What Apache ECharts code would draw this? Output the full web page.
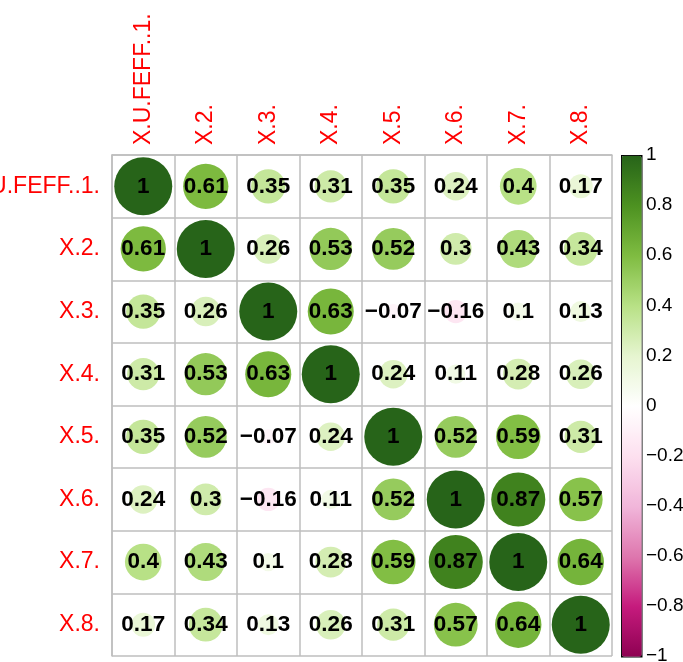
<!DOCTYPE html>
<html>
<head>
<meta charset="utf-8">
<script src="https://cdn.jsdelivr.net/npm/echarts@6/dist/echarts.min.js"></script>
<style>
html, body { margin: 0; padding: 0; background: #fff; }
#main { width: 683px; height: 662px; }
</style>
</head>
<body>
<div id="main"></div>
<script>
// variable names, top row / left column first
var vars = ['X.U.FEFF..1.', 'X.2.', 'X.3.', 'X.4.', 'X.5.', 'X.6.', 'X.7.', 'X.8.']

// correlation matrix, one row per variable
var corr = [
    [1, 0.61, 0.35, 0.31, 0.35, 0.24, 0.4, 0.17],
    [0.61, 1, 0.26, 0.53, 0.52, 0.3, 0.43, 0.34],
    [0.35, 0.26, 1, 0.63, -0.07, -0.16, 0.1, 0.13],
    [0.31, 0.53, 0.63, 1, 0.24, 0.11, 0.28, 0.26],
    [0.35, 0.52, -0.07, 0.24, 1, 0.52, 0.59, 0.31],
    [0.24, 0.3, -0.16, 0.11, 0.52, 1, 0.87, 0.57],
    [0.4, 0.43, 0.1, 0.28, 0.59, 0.87, 1, 0.64],
    [0.17, 0.34, 0.13, 0.26, 0.31, 0.57, 0.64, 1]
]

// PiYG palette, -1 .. 1
var palette = ['#8E0152', '#C51B7D', '#DE77AE', '#F1B6DA', '#FDE0EF', '#FFFFFF',
    '#E6F5D0', '#B8E186', '#7FBC41', '#4D9221', '#276419']

var FONT = '"Liberation Sans", Arial, sans-serif'
var gridL = 112, gridT = 155, gridW = 500, gridH = 501

function fmtNum (v) {
    return String(v).replace('-', '\u2212')
}

var pts = []
for (var i = 0; i < corr.length; i++) {
    for (var j = 0; j < corr[i].length; j++) {
        pts.push([j, i, corr[i][j]])
    }
}

var chart = echarts.init(document.getElementById('main'))
var option = {
    animation: false,
    textStyle: { fontFamily: FONT },
    grid: [
        { left: gridL, top: gridT, width: gridW, height: gridH, containLabel: false, outerBoundsMode: 'none' },
        { left: 621, top: gridT, width: 20, height: gridH, containLabel: false, outerBoundsMode: 'none' }
    ],
    xAxis: [{
        type: 'category',
        data: vars,
        position: 'top',
        gridIndex: 0,
        axisLine: { show: true, lineStyle: { color: '#bebebe', width: 1.5 } },
        axisTick: { show: false },
        splitLine: { show: true, lineStyle: { color: '#bebebe', width: 1.5 } },
        axisLabel: { rotate: -90, color: '#ff0000', fontSize: 23, margin: 10, fontFamily: FONT }
    }, {
        type: 'value',
        gridIndex: 1,
        show: false
    }],
    yAxis: [{
        type: 'category',
        data: vars,
        inverse: true,
        gridIndex: 0,
        axisLine: { show: true, lineStyle: { color: '#bebebe', width: 1.5 } },
        axisTick: { show: false },
        splitLine: { show: true, lineStyle: { color: '#bebebe', width: 1.5 } },
        axisLabel: { color: '#ff0000', fontSize: 23, margin: 12, fontFamily: FONT }
    }, {
        type: 'value',
        gridIndex: 1,
        position: 'right',
        min: -1,
        max: 1,
        interval: 0.2,
        axisLine: { show: false },
        axisTick: { show: true, length: 4, lineStyle: { color: '#000' } },
        splitLine: { show: false },
        axisLabel: {
            color: '#000',
            fontSize: 19,
            margin: 5,
            fontFamily: FONT,
            formatter: function (v) { return fmtNum(Math.round(v * 10) / 10) }
        }
    }],
    visualMap: {
        type: 'continuous',
        min: -1,
        max: 1,
        dimension: 2,
        seriesIndex: 0,
        calculable: false,
        text: ['', ''],
        showLabel: false,
        itemWidth: 20,
        itemHeight: gridH,
        left: 621,
        top: gridT,
        padding: 0,
        borderColor: '#000',
        borderWidth: 1.5,
        inRange: { color: palette }
    },
    series: [{
        type: 'scatter',
        xAxisIndex: 0,
        yAxisIndex: 0,
        data: pts,
        symbol: 'circle',
        symbolSize: function (d) { return 58 * Math.sqrt(Math.abs(d[2])) },
        itemStyle: { opacity: 1 },
        label: {
            show: true,
            position: 'inside',
            color: '#000',
            fontSize: 22.5,
            fontWeight: 'bold',
            fontFamily: FONT,
            formatter: function (p) { return fmtNum(p.value[2]) }
        },
        emphasis: { disabled: true }
    }]
}
chart.setOption(option)
window.onresize = chart.resize
</script>
</body>
</html>
